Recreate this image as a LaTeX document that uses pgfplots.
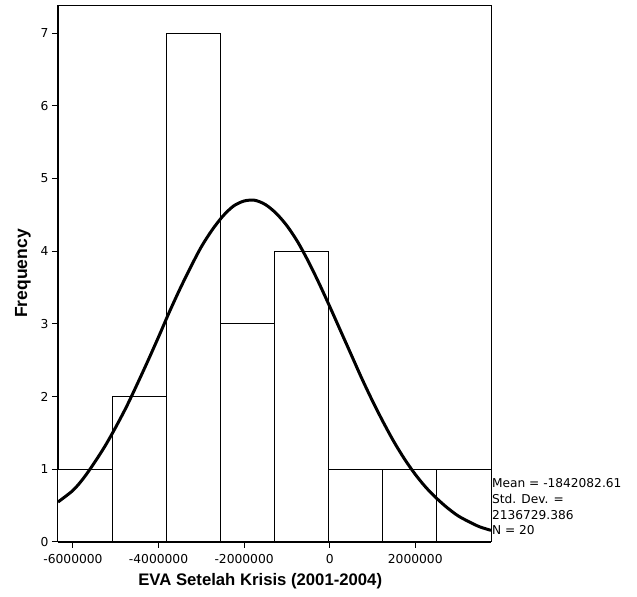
\documentclass[border=0pt]{standalone}
\usepackage{fontspec}
\setmainfont{Liberation Sans}
\newfontfamily\dvs{DejaVu Sans}
\usepackage{pgfplots}
\pgfplotsset{compat=1.18}
\usetikzlibrary{calc}
\begin{document}
\begin{tikzpicture}
\begin{axis}[
  scale only axis,
  width=433pt, height=537pt,
  xmin=-6350000, xmax=3770000,
  ymin=0, ymax=7.386,
  axis lines=left,
  axis line style={-, line width=1.2pt},
  tick align=outside,
  major tick length=6pt,
  tick style={line width=1pt, black},
  scaled x ticks=false,
  xtick={-6000000,-4000000,-2000000,0,2000000},
  xticklabels={-6000000,-4000000,-2000000,0,2000000},
  ytick={0,1,2,3,4,5,6,7},
  yticklabels={0,1,2,3,4,5,6,7},
  ticklabel style={font=\dvs\fontsize{12.3}{14}\selectfont},
  xticklabel style={yshift=-5pt, inner sep=1pt},
  xlabel={EVA Setelah Krisis (2001-2004)},
  ylabel={Frequency},
  xlabel style={font=\fontsize{16.7}{18}\selectfont\bfseries, inner sep=0pt, at={(axis description cs:0.467,-0.073)}, anchor=center},
  ylabel style={font=\fontsize{17.5}{18}\selectfont\bfseries, at={(axis description cs:-0.081,0.5)}, anchor=center},
  clip=false,
]
\addplot[ybar interval, fill=white, draw=black, line width=1pt] coordinates {
  (-6350000,1) (-5085000,2) (-3820000,7) (-2555000,3) (-1290000,4)
  (-25000,1) (1240000,1) (2505000,1) (3770000,1)
};
\addplot[smooth, no marks, line width=3pt, black] coordinates {
  (-6350000,0.55) (-6000000,0.71) (-5750000,0.88) (-5500000,1.09) (-5250000,1.32)
  (-5000000,1.58) (-4750000,1.86) (-4500000,2.17) (-4250000,2.49) (-4000000,2.82)
  (-3750000,3.16) (-3500000,3.48) (-3250000,3.78) (-3000000,4.06) (-2750000,4.29)
  (-2500000,4.48) (-2250000,4.62) (-2000000,4.69) (-1750000,4.70) (-1500000,4.64)
  (-1250000,4.52) (-1000000,4.35) (-750000,4.13) (-500000,3.86) (-250000,3.56)
  (0,3.24) (250000,2.91) (500000,2.58) (750000,2.25) (1000000,1.94)
  (1250000,1.65) (1500000,1.38) (1750000,1.14) (2000000,0.93) (2250000,0.75)
  (2500000,0.60) (2750000,0.47) (3000000,0.36) (3250000,0.28) (3500000,0.21)
  (3770000,0.16)
};
\coordinate (sw) at (rel axis cs:0,0);
\coordinate (ne) at (rel axis cs:1,1);
\draw[line width=0.8pt] (rel axis cs:0,1) -- (rel axis cs:1,1) -- (rel axis cs:1,0);
\node[anchor=north west, inner sep=0pt, align=left, font=\dvs\fontsize{12.2}{15.7}\selectfont] at (rel axis cs:1.002,0.118)
  {Mean = -1842082.61\\Std. Dev. =\\2136729.386\\N = 20};
\end{axis}
\pgfresetboundingbox
\path[use as bounding box] ($(sw)+(-58pt,-55pt)$) rectangle ($(ne)+(146pt,5pt)$);
\end{tikzpicture}
\end{document}
